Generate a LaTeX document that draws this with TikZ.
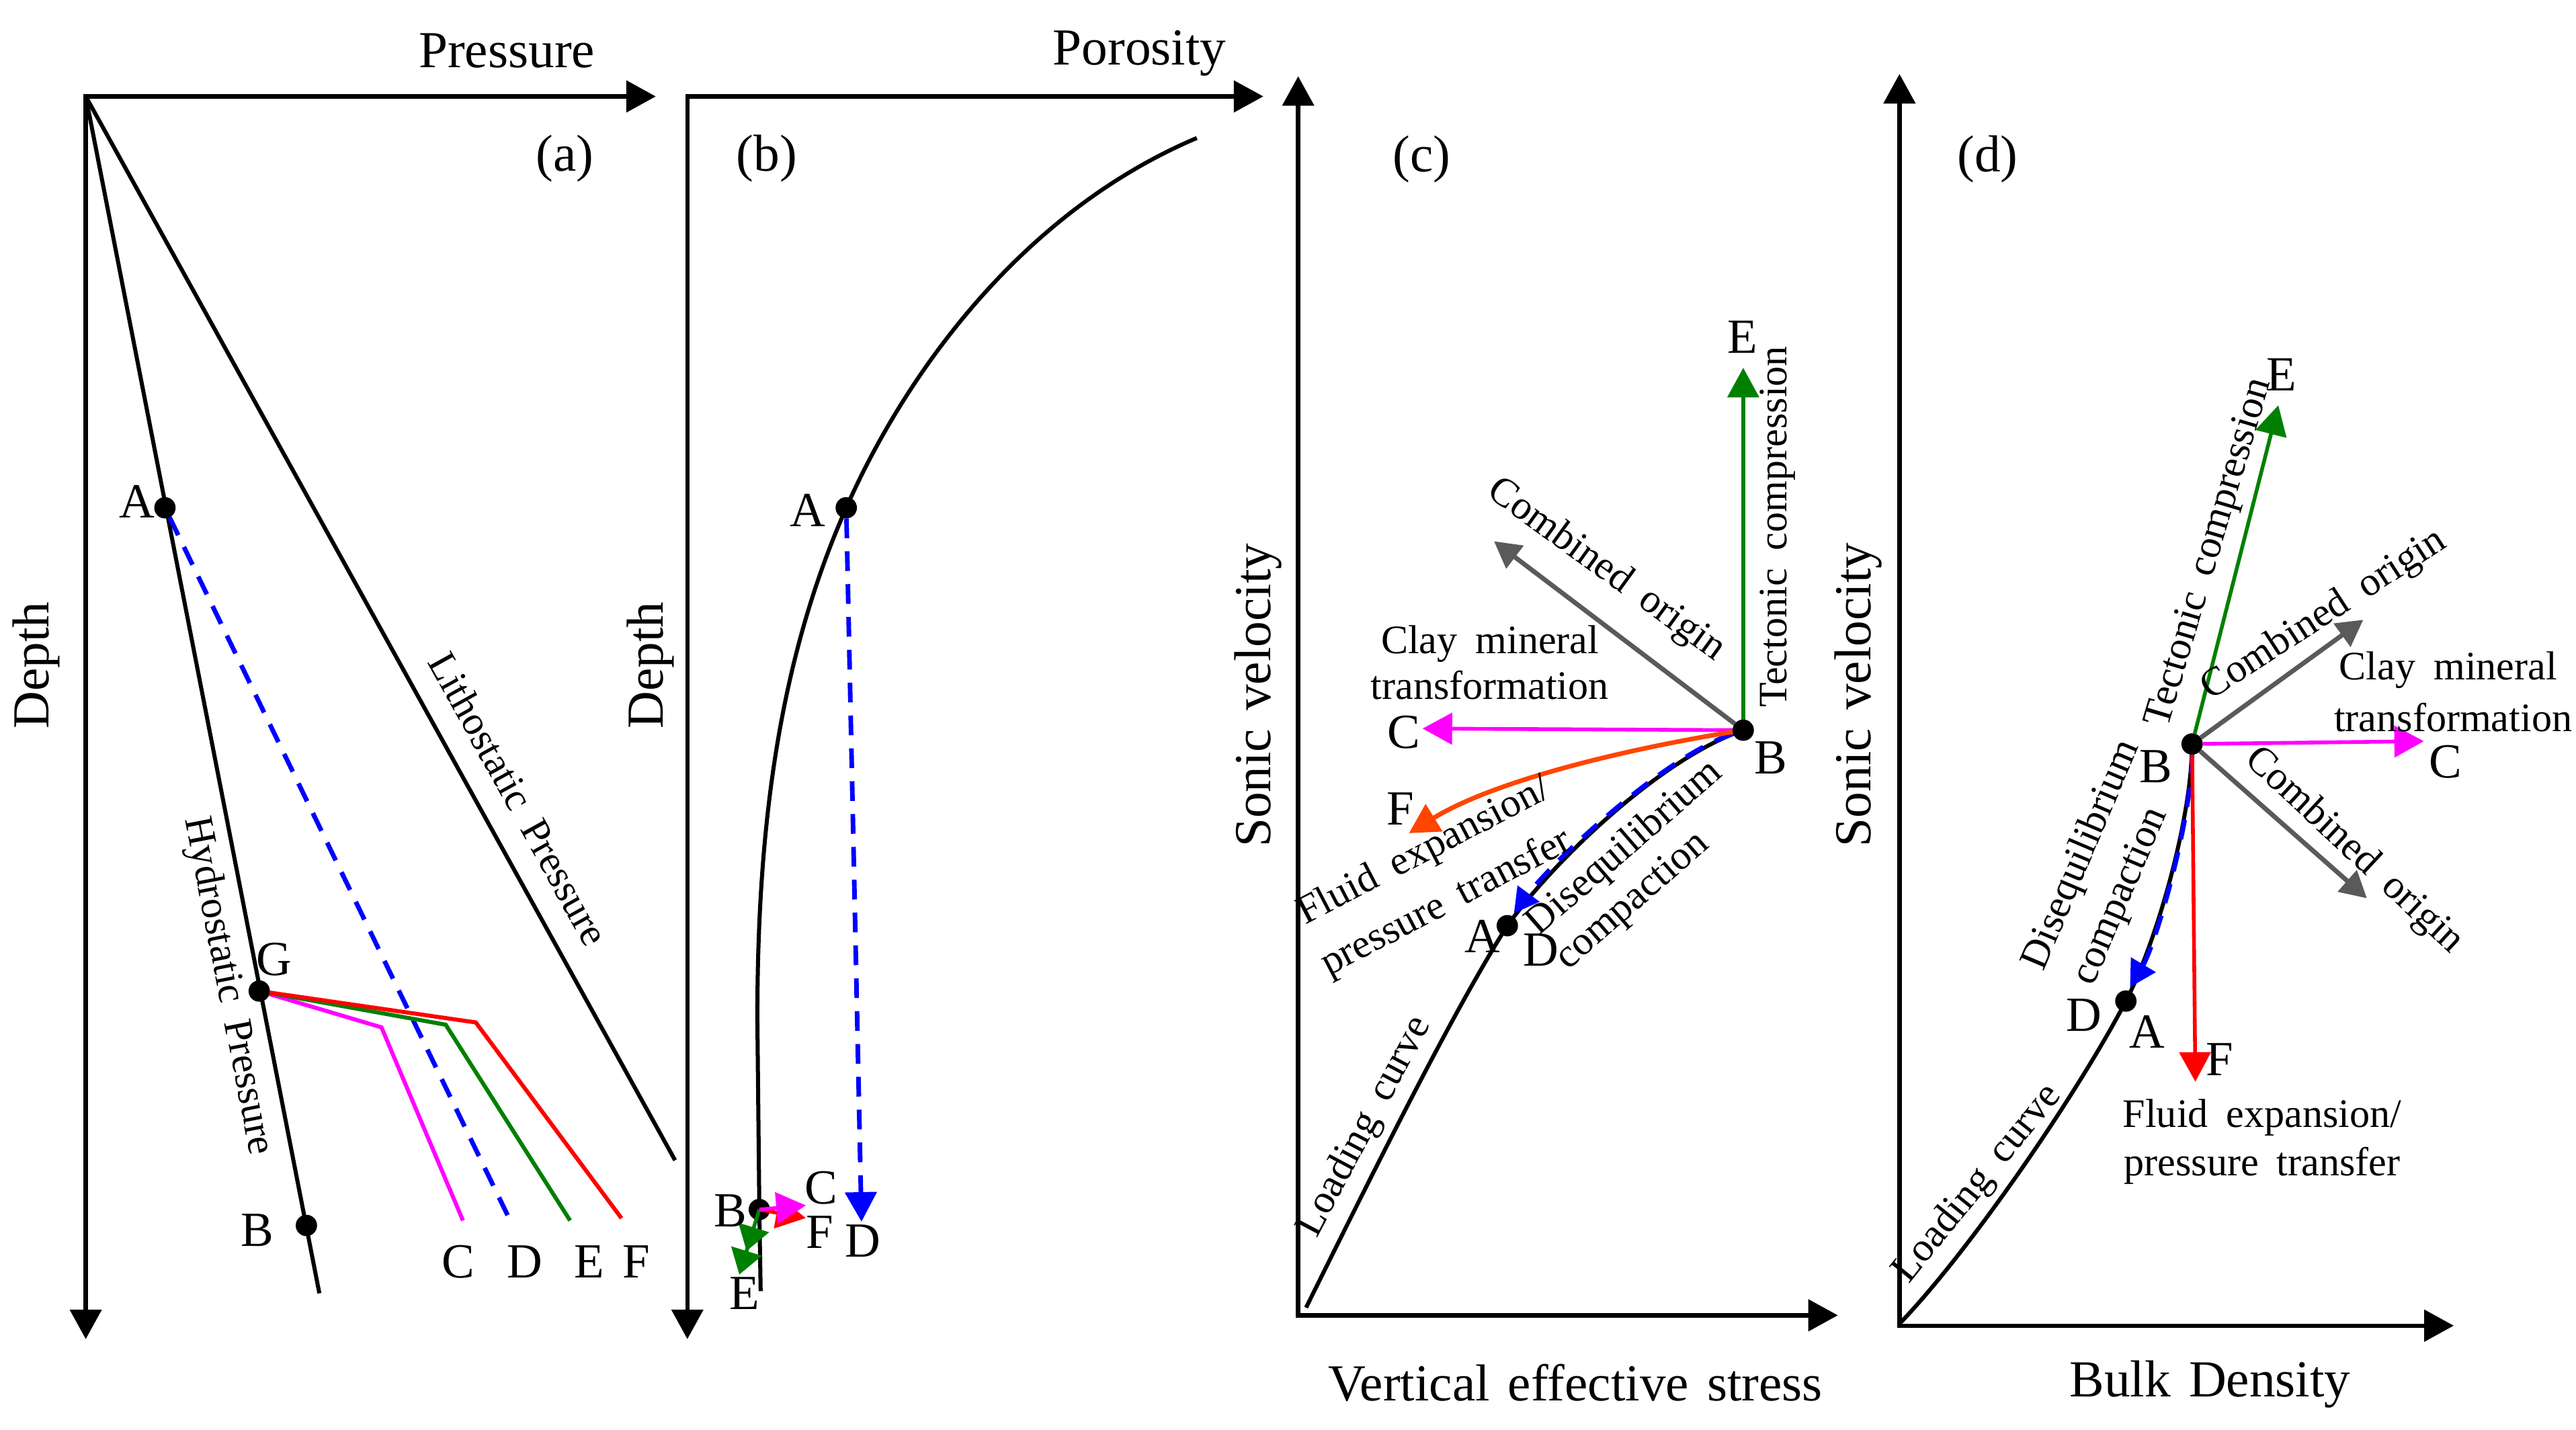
\documentclass[tikz,border=0pt]{standalone}
\usepackage{fontspec}
\setmainfont{Liberation Serif}
\usetikzlibrary{arrows.meta}

\definecolor{clrC}{RGB}{255,0,255}
\definecolor{clrE}{RGB}{0,128,0}
\definecolor{clrF}{RGB}{255,0,0}
\definecolor{clrFo}{RGB}{255,69,0}
\definecolor{clrD}{RGB}{0,0,255}
\definecolor{clrG}{RGB}{90,90,90}

\begin{document}
\begin{tikzpicture}[x=0.1mm, y=-0.1mm]
\tikzset{ >={Triangle[length=1.8mm,width=1.9mm]}, inner sep=0pt, outer sep=0pt,
  axisline/.style={line width=0.75pt},
  curveline/.style={line width=0.7pt},
  arrline/.style={line width=0.65pt, ->},
  dotnode/.style={fill=black, circle, minimum size=1.3mm},
  lbl/.style={font={\fontsize{8.5}{9}\selectfont}},
  axtitle/.style={font={\fontsize{9}{10}\selectfont\spaceskip=0.35em}},
  note/.style={font={\fontsize{7}{8}\selectfont\spaceskip=0.45em}},
  bluedash/.style={clrD, line width=0.8pt, dash pattern=on 1.2mm off 0.8mm},
}
%\draw [lightgray, dashed] (0,0) grid[step=100] (1568,870);
\useasboundingbox (0,0) rectangle (1568,870.5);

% (a) pressure
\coordinate (Oa) at (52.2,58.7);
\coordinate (Xa) at (399.2,58.7);
\coordinate (Ya) at (52.2,815.2);
\draw [axisline, <->] (Xa) -- (Oa) -- (Ya);
\node [axtitle] (pressure) at (308.5,31) {Pressure};
\node [axtitle, rotate=90] (deptha) at (22,405) {Depth};
\node [axtitle] (taga) at (343.9,96.5) {(a)};

\coordinate (hydroEnd) at (194.4,787.3);
\coordinate (lithoEnd) at (410.9,706.3);
\draw [curveline] (Oa) -- (hydroEnd);
\draw [curveline] (Oa) -- (lithoEnd);
\node [note, rotate=-79] (hydro) at (138.3,600.3) {Hydrostatic Pressure};
\node [note, rotate=-61] (litho) at (315.7,486.2) {Lithostatic Pressure};

\node [dotnode] (aA) at (100.4,309.1) {};
\node [dotnode] (aG) at (157.8,603.3) {};
\node [dotnode] (aB) at (186.5,746) {};

\coordinate (aC) at (281.8,743);
\coordinate (aD) at (309.1,740);
\coordinate (aE) at (347,743);
\coordinate (aF) at (378.3,741.6);
\draw [bluedash] (aA) -- (aD);
\draw [curveline, clrC] (aG) -- (232.2,625.4) -- (aC);
\draw [curveline, clrE] (aG) -- (271.3,623.8) -- (aE);
\draw [curveline, clrF] (aG) -- (289.6,622.4) -- (aF);

\node [lbl] (aAl) at (83.5,305.3) {A};
\node [lbl] (aGl) at (167,584) {G};
\node [lbl] (aBl) at (156.5,749) {B};
\node [lbl] (aCl) at (279.1,768) {C};
\node [lbl] (aDl) at (319.5,768) {D};
\node [lbl] (aEl) at (358.7,768) {E};
\node [lbl] (aFl) at (387.4,768) {F};

% (b) porosity
\coordinate (Ob) at (418.4,58.7);
\coordinate (Xb) at (769,58.7);
\coordinate (Yb) at (418.4,815.2);
\draw [axisline, <->] (Xb) -- (Ob) -- (Yb);
\node [axtitle] (porosity) at (693.6,32.6) {Porosity};
\node [axtitle, rotate=90] (depthb) at (396,405) {Depth};
\node [axtitle] (tagb) at (466.7,96.5) {(b)};

\node [dotnode] (bA) at (515.1,309.1) {};
\node [dotnode] (bB) at (462.2,736.3) {};
\coordinate (bTop) at (728.5,84);
\coordinate (bEnd) at (463,786);
\draw [curveline] (bTop) .. controls (620,130) and (550,230) .. (bA.center)
  .. controls (475,400) and (461,500) .. (461,620) -- (bB.center) -- (bEnd);

\coordinate (bC) at (490.5,733.8);
\coordinate (bD) at (524.4,743.7);
\coordinate (bE) at (450,775.9);
\coordinate (bF) at (490.5,741.5);
\draw [bluedash, ->] (bA) -- (bD);
\draw [clrE, line width=0.65pt, -{Triangle[length=1.5mm,width=1.9mm]Triangle[length=1.5mm,width=1.9mm]}] (bB.center) -- (bE);
\draw [arrline, clrF] (bB.center) -- (bF);
\draw [arrline, clrC] (bB.center) -- (bC);

\node [lbl] (bAl) at (491.5,310.5) {A};
\node [lbl] (bBl) at (444.6,737) {B};
\node [lbl] (bCl) at (500,723) {C};
\node [lbl] (bFl) at (499,750) {F};
\node [lbl] (bDl) at (525,755.5) {D};
\node [lbl] (bEl) at (453,787.5) {E};

% (c) vertical effective stress
\coordinate (Oc) at (790.2,800.7);
\coordinate (Xc) at (1118.7,800.7);
\coordinate (Yc) at (790.2,46.4);
\draw [axisline, <->] (Yc) -- (Oc) -- (Xc);
\node [axtitle, rotate=90] (sonicc) at (766,423.3) {Sonic velocity};
\node [axtitle] (stress) at (958.9,841.7) {Vertical effective stress};
\node [axtitle] (tagc) at (865.5,96.8) {(c)};

\node [dotnode] (cA) at (917.5,563.5) {};
\node [dotnode] (cB) at (1061.1,444.5) {};
\coordinate (cStart) at (795,796);
\draw [curveline] (cStart) .. controls (840,705) and (885,615) .. (cA.center)
  .. controls (945,525) and (1010,462) .. (cB.center);
\node [note, rotate=62] (loadc) at (831,686) {Loading curve};

\coordinate (cC) at (865.9,443.5);
\coordinate (cE) at (1061.1,223.9);
\coordinate (cF) at (857.6,507.2);
\coordinate (cG) at (909.4,329.5);
\coordinate (cD) at (921.5,556);
\draw [bluedash, -{Triangle[length=1.5mm,width=1.6mm]}] (cB) .. controls (1010,462) and (943,527) .. (cD);
\draw [arrline, clrE] (cB) -- (cE);
\draw [arrline, clrG, line width=0.8pt, -{Triangle[length=1.6mm,width=1.7mm]}] (cB) -- (cG);
\draw [arrline, clrC] (cB) -- (cC);
\draw [arrline, clrFo, line width=0.8pt] (cB) .. controls (990,456) and (910,475) .. (cF);

\node [lbl] (cAl) at (902.4,569.8) {A};
\node [lbl] (cBl) at (1077.8,461.3) {B};
\node [lbl] (cCl) at (854.4,445.6) {C};
\node [lbl] (cDl) at (937.9,578.1) {D};
\node [lbl] (cEl) at (1060.7,205.2) {E};
\node [lbl] (cFl) at (852.4,492.5) {F};

\node [note, rotate=90] (tectc) at (1082,320.6) {Tectonic compression};
\node [note, rotate=-36] (combc) at (977.5,347.3) {Combined origin};
\node [note] (clayc1) at (907,391.8) {Clay mineral};
\node [note] (clayc2) at (906.8,417) {transformation};
\node [note, rotate=27.5] (fluidc1) at (867,518.7) {Fluid expansion/};
\node [note, rotate=27.5] (fluidc2) at (880.6,549.9) {pressure transfer};
\node [note, rotate=41] (disc1) at (989.1,516.6) {Disequilibrium};
\node [note, rotate=41] (disc2) at (994.3,548.9) {compaction};

% (d) bulk density
\coordinate (Od) at (1156.2,807);
\coordinate (Xd) at (1493.6,807);
\coordinate (Yd) at (1156.2,45);
\draw [axisline, <->] (Yd) -- (Od) -- (Xd);
\node [axtitle, rotate=90] (sonicd) at (1131,423) {Sonic velocity};
\node [axtitle] (density) at (1345.3,842.8) {Bulk Density};
\node [axtitle] (tagd) at (1209.9,96.8) {(d)};

\node [dotnode] (dA) at (1294,609.4) {};
\node [dotnode] (dB) at (1334.3,452.9) {};
\coordinate (dStart) at (1157,805);
\draw [curveline] (dStart) .. controls (1200,760) and (1265,665) .. (dA.center)
  .. controls (1312,575) and (1334,500) .. (dB.center);
\node [note, rotate=51] (loadd) at (1204,720.8) {Loading curve};

\coordinate (dC) at (1475.4,451.2);
\coordinate (dE) at (1386.8,246.7);
\coordinate (dF) at (1336.3,658.5);
\coordinate (dG1) at (1438.5,377.3);
\coordinate (dG2) at (1440.7,546.8);
\coordinate (dD) at (1296.5,601);
\draw [bluedash, -{Triangle[length=1.6mm,width=1.7mm]}] (dB) .. controls (1334,500) and (1312,575) .. (dD);
\draw [arrline, clrE] (dB) -- (dE);
\draw [arrline, clrG, line width=0.8pt, -{Triangle[length=1.6mm,width=1.7mm]}] (dB) -- (dG1);
\draw [arrline, clrG, line width=0.8pt, -{Triangle[length=1.6mm,width=1.7mm]}] (dB) -- (dG2);
\draw [arrline, clrC] (dB) -- (dC);
\draw [arrline, clrF] (dB) -- (dF);

\node [lbl] (dAl) at (1307.1,628.2) {A};
\node [lbl] (dBl) at (1312.4,466.5) {B};
\node [lbl] (dCl) at (1488.7,463.8) {C};
\node [lbl] (dDl) at (1268.5,617.8) {D};
\node [lbl] (dEl) at (1388.8,228) {E};
\node [lbl] (dFl) at (1351,644.9) {F};

\node [note, rotate=73.5] (tectd) at (1345.4,336.6) {Tectonic compression};
\node [note, rotate=33] (combd1) at (1414.8,374.6) {Combined origin};
\node [note] (clayd1) at (1490.2,407.8) {Clay mineral};
\node [note] (clayd2) at (1493.2,436.7) {transformation};
\node [note, rotate=-43] (combd2) at (1432.6,518) {Combined origin};
\node [note] (fluidd1) at (1377,680.4) {Fluid expansion/};
\node [note] (fluidd2) at (1377,709.6) {pressure transfer};
\node [note, rotate=67] (disd1) at (1267.5,520.7) {Disequilibrium};
\node [note, rotate=67] (disd2) at (1291.5,545.8) {compaction};

\end{tikzpicture}
\end{document}
